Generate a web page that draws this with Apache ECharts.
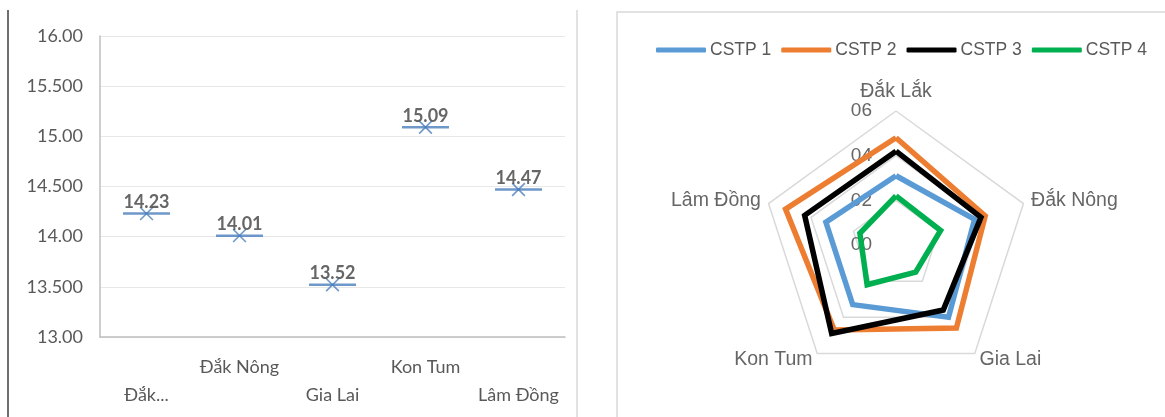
<!DOCTYPE html>
<html>
<head>
<meta charset="utf-8">
<title>chart</title>
<script src="https://cdn.jsdelivr.net/npm/echarts@6/dist/echarts.min.js"></script>
<style>
    html, body { margin: 0; padding: 0; background: #fff; }
    #main { width: 1165px; height: 417px; }
</style>
</head>
<body>
<div id="main"></div>
<script>
// left chart: province scores
var provinces = ['Đắk Lắk', 'Đắk Nông', 'Gia Lai', 'Kon Tum', 'Lâm Đồng'];
var provinceLabels = ['Đắk...', 'Đắk Nông', 'Gia Lai', 'Kon Tum', 'Lâm Đồng'];
var scores = [14.23, 14.01, 13.52, 15.09, 14.47];
var yTickLabels = ['13.00', '13.500', '14.00', '14.500', '15.00', '15.500', '16.00'];

// right chart: radar, clockwise from the top
var radarNames = ['Đắk Lắk', 'Đắk Nông', 'Gia Lai', 'Kon Tum', 'Lâm Đồng'];
var radarTickLabels = ['00', '02', '04', '06'];
var cstpNames = ['CSTP 1', 'CSTP 2', 'CSTP 3', 'CSTP 4'];
var cstp1 = [0.31, 0.37, 0.40, 0.33, 0.33];
var cstp2 = [0.48, 0.42, 0.46, 0.47, 0.52];
var cstp3 = [0.42, 0.40, 0.36, 0.49, 0.43];
var cstp4 = [0.22, 0.21, 0.15, 0.22, 0.17];

var yMin = 13, yMax = 16, yStep = 0.5;
var radarMax = 0.6;
var cstpColors = ['#5b9bd5', '#ed7d31', '#000000', '#00b050'];
var markColor = '#4a7ebb';
var textColor = '#595959';

/**
 * echarts radar goes counter-clockwise, so flip everything after the first axis
 */
var toCcw = function (arr) {
    return [arr[0]].concat(arr.slice(1).reverse());
};

var chart = echarts.init(document.getElementById('main'));

var indicators = toCcw(radarNames).map(function (n, i) {
    var ind = { name: n, min: 0, max: radarMax };
    if (i === 0) {
        ind.axisLabel = {
            show: true,
            color: '#666666',
            fontSize: 19,
            fontFamily: 'Liberation Sans',
            margin: 24,
            formatter: function (v) {
                return radarTickLabels[Math.round(v / (radarMax / 3))];
            }
        };
    }
    return ind;
});

var radarSeries = [cstp1, cstp2, cstp3, cstp4].map(function (vals, i) {
    return {
        name: cstpNames[i],
        type: 'radar',
        radarIndex: 0,
        symbol: 'none',
        silent: true,
        itemStyle: { color: cstpColors[i] },
        lineStyle: { color: cstpColors[i], width: 5.5, join: 'miter' },
        data: [{ name: cstpNames[i], value: toCcw(vals) }]
    };
});

var crossPart = function (rot) {
    return {
        type: 'scatter',
        silent: true,
        symbol: 'rect',
        symbolSize: [18, 1.6],
        symbolRotate: rot,
        itemStyle: { color: markColor },
        data: scores
    };
};

var option = {
    animation: false,
    graphic: [
        { type: 'line', shape: { x1: 8, y1: 10, x2: 8, y2: 417 }, style: { stroke: '#3f3f3f', lineWidth: 1.5 } },
        { type: 'line', shape: { x1: 577, y1: 10, x2: 577, y2: 417 }, style: { stroke: '#d9d9d9', lineWidth: 1.5 } },
        { type: 'rect', shape: { x: 617, y: 12, width: 600, height: 420 }, style: { stroke: '#d9d9d9', fill: 'none', lineWidth: 1.5 } }
    ],
    grid: { left: 100, right: 600, top: 36, bottom: 80 },
    xAxis: {
        type: 'category',
        data: provinces,
        axisTick: { show: false },
        axisLine: { lineStyle: { color: '#bfbfbf', width: 1.5 } },
        axisLabel: {
            interval: 0,
            margin: 16,
            lineHeight: 28,
            color: textColor,
            fontSize: 18,
            fontFamily: 'Lato',
            formatter: function (v, i) {
                return i % 2 === 0 ? '\n' + provinceLabels[i] : provinceLabels[i];
            }
        }
    },
    yAxis: {
        type: 'value',
        min: yMin,
        max: yMax,
        interval: yStep,
        axisLine: { show: true, lineStyle: { color: '#bfbfbf', width: 1.5 } },
        axisTick: { show: false },
        splitLine: { lineStyle: { color: '#e8e8e8' } },
        axisLabel: {
            margin: 17,
            color: textColor,
            fontSize: 18,
            fontFamily: 'Lato',
            formatter: function (v) {
                return yTickLabels[Math.round((v - yMin) / yStep)];
            }
        }
    },
    legend: {
        data: cstpNames,
        left: 651,
        top: 36,
        itemGap: 10,
        itemWidth: 50,
        itemHeight: 5,
        icon: 'roundRect',
        textStyle: { color: textColor, fontSize: 17.5, fontFamily: 'Liberation Sans', padding: [0, 0, 0, -1] }
    },
    radar: {
        center: [896, 245],
        radius: 134,
        startAngle: 90,
        shape: 'polygon',
        splitNumber: 3,
        nameGap: 8,
        axisName: { color: '#666666', fontSize: 19.5, fontFamily: 'Liberation Sans' },
        axisLine: { show: false },
        axisTick: { show: false },
        axisLabel: { show: false },
        splitArea: { show: false },
        splitLine: { lineStyle: { color: '#d9d9d9', width: 1.5 } },
        indicator: indicators
    },
    series: [
        {
            type: 'scatter',
            silent: true,
            symbol: 'rect',
            symbolSize: [47, 2.5],
            itemStyle: { color: markColor },
            label: {
                show: true,
                position: 'top',
                distance: 1,
                color: '#404040',
                fontSize: 18,
                fontWeight: 'bold',
                fontFamily: 'Lato',
                formatter: function (p) {
                    return p.value.toFixed(2);
                }
            },
            data: scores
        },
        crossPart(45),
        crossPart(-45)
    ].concat(radarSeries)
};

chart.setOption(option);
</script>
</body>
</html>
